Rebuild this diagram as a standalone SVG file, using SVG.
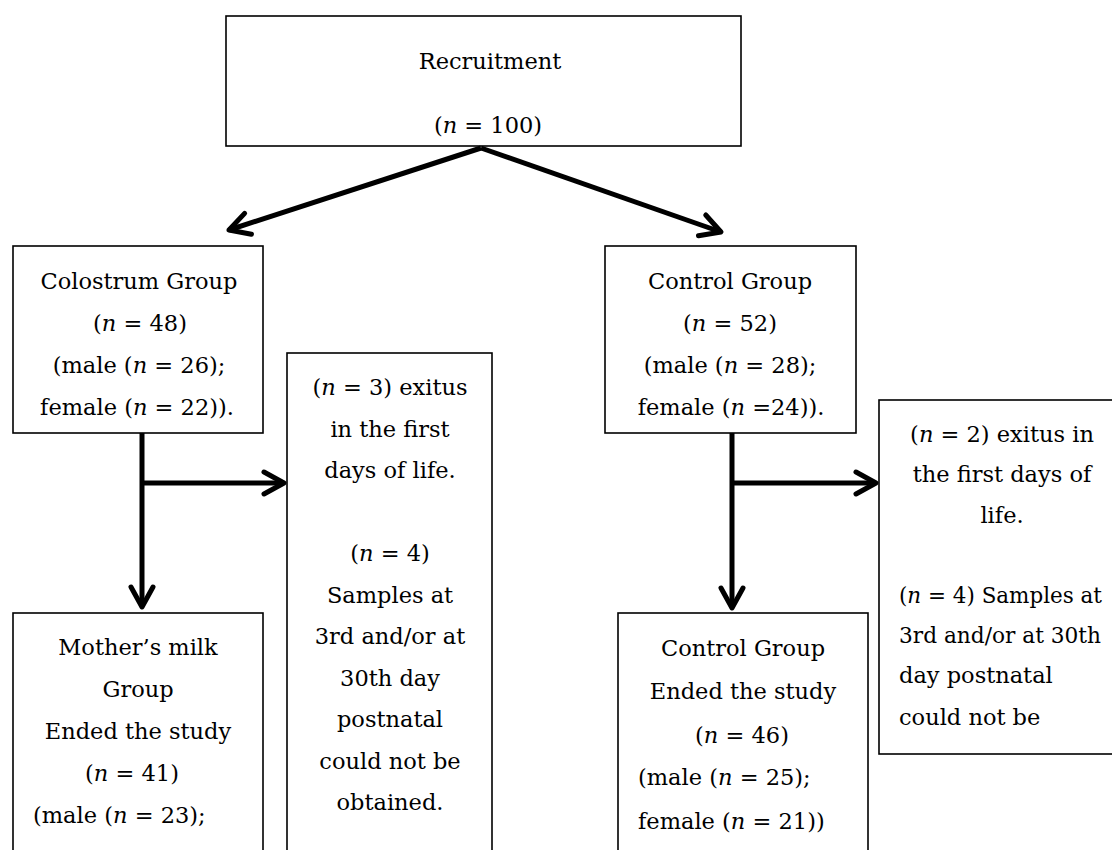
<svg xmlns="http://www.w3.org/2000/svg" width="1112" height="850" viewBox="0 0 1112 850">
<style>
.box{fill:#fff;stroke:#000;stroke-width:1.6}
.t{font-family:"DejaVu Serif","Liberation Serif",serif;font-size:22.5px;fill:#000}
.c{text-anchor:middle}
.i{font-style:italic}
.con{stroke:#000;stroke-width:5;fill:none}
</style>
<defs>
<marker id="ah" markerUnits="userSpaceOnUse" markerWidth="30" markerHeight="30" viewBox="-25 -15 30 30" refX="0" refY="0" orient="auto" overflow="visible">
<path d="M-20,-11 L0,0 L-20,11" fill="none" stroke="#000" stroke-width="5" stroke-linecap="round" stroke-linejoin="round"/>
</marker>
</defs>
<rect width="1112" height="850" fill="#fff"/>

<g id="recruitment">
<rect class="box" x="226" y="16" width="515" height="130"/>
<text class="t c" x="490" y="69">Recruitment</text>
<text class="t c" x="488" y="133">(<tspan class="i">n</tspan> = 100)</text>
</g>

<g id="colostrum">
<rect class="box" x="13" y="246" width="250" height="187"/>
<text class="t c" x="139" y="289">Colostrum Group</text>
<text class="t c" x="140" y="331">(<tspan class="i">n</tspan> = 48)</text>
<text class="t c" x="139" y="373">(male (<tspan class="i">n</tspan> = 26);</text>
<text class="t c" x="137" y="415">female (<tspan class="i">n</tspan> = 22)).</text>
</g>

<g id="control">
<rect class="box" x="605" y="246" width="251" height="187"/>
<text class="t c" x="730" y="289">Control Group</text>
<text class="t c" x="730" y="331">(<tspan class="i">n</tspan> = 52)</text>
<text class="t c" x="730" y="373">(male (<tspan class="i">n</tspan> = 28);</text>
<text class="t c" x="731" y="415">female (<tspan class="i">n</tspan> =24)).</text>
</g>

<g id="colostrum-exclusions">
<rect class="box" x="287" y="353" width="205" height="520"/>
<text class="t c" x="390" y="395">(<tspan class="i">n</tspan> = 3) exitus</text>
<text class="t c" x="390" y="436.5">in the first</text>
<text class="t c" x="390" y="478">days of life.</text>
<text class="t c" x="390" y="561">(<tspan class="i">n</tspan> = 4)</text>
<text class="t c" x="390" y="602.5">Samples at</text>
<text class="t c" x="390" y="644">3rd and/or at</text>
<text class="t c" x="390" y="685.5">30th day</text>
<text class="t c" x="390" y="727">postnatal</text>
<text class="t c" x="390" y="768.5">could not be</text>
<text class="t c" x="390" y="810">obtained.</text>
</g>

<g id="control-exclusions">
<rect class="box" x="879" y="400" width="250" height="354"/>
<text class="t c" x="1002" y="442">(<tspan class="i">n</tspan> = 2) exitus in</text>
<text class="t c" x="1002" y="482">the first days of</text>
<text class="t c" x="1002" y="523">life.</text>
<text class="t" x="899" y="603" textLength="203" lengthAdjust="spacingAndGlyphs">(<tspan class="i">n</tspan> = 4) Samples at</text>
<text class="t" x="899" y="643" textLength="202" lengthAdjust="spacingAndGlyphs">3rd and/or at 30th</text>
<text class="t" x="899" y="683">day postnatal</text>
<text class="t" x="899" y="725">could not be</text>
</g>

<g id="mothers-milk">
<rect class="box" x="13" y="613" width="250" height="260"/>
<text class="t c" x="138" y="655">Mother’s milk</text>
<text class="t c" x="138" y="697">Group</text>
<text class="t c" x="138" y="739">Ended the study</text>
<text class="t c" x="132" y="781">(<tspan class="i">n</tspan> = 41)</text>
<text class="t" x="33" y="823">(male (<tspan class="i">n</tspan> = 23);</text>
</g>

<g id="control-ended">
<rect class="box" x="618" y="613" width="250" height="260"/>
<text class="t c" x="743" y="656">Control Group</text>
<text class="t c" x="743" y="699">Ended the study</text>
<text class="t c" x="742" y="743">(<tspan class="i">n</tspan> = 46)</text>
<text class="t" x="638" y="785">(male (<tspan class="i">n</tspan> = 25);</text>
<text class="t" x="638" y="829">female (<tspan class="i">n</tspan> = 21))</text>
</g>

<g id="connectors">
<line class="con" x1="481" y1="148" x2="229" y2="230" marker-end="url(#ah)"/>
<line class="con" x1="481" y1="148" x2="721" y2="232" marker-end="url(#ah)"/>
<line class="con" x1="142" y1="433" x2="142" y2="607" marker-end="url(#ah)"/>
<line class="con" x1="142" y1="483" x2="284" y2="483" marker-end="url(#ah)"/>
<line class="con" x1="732" y1="433" x2="732" y2="608" marker-end="url(#ah)"/>
<line class="con" x1="732" y1="483" x2="876" y2="483" marker-end="url(#ah)"/>
</g>
</svg>
